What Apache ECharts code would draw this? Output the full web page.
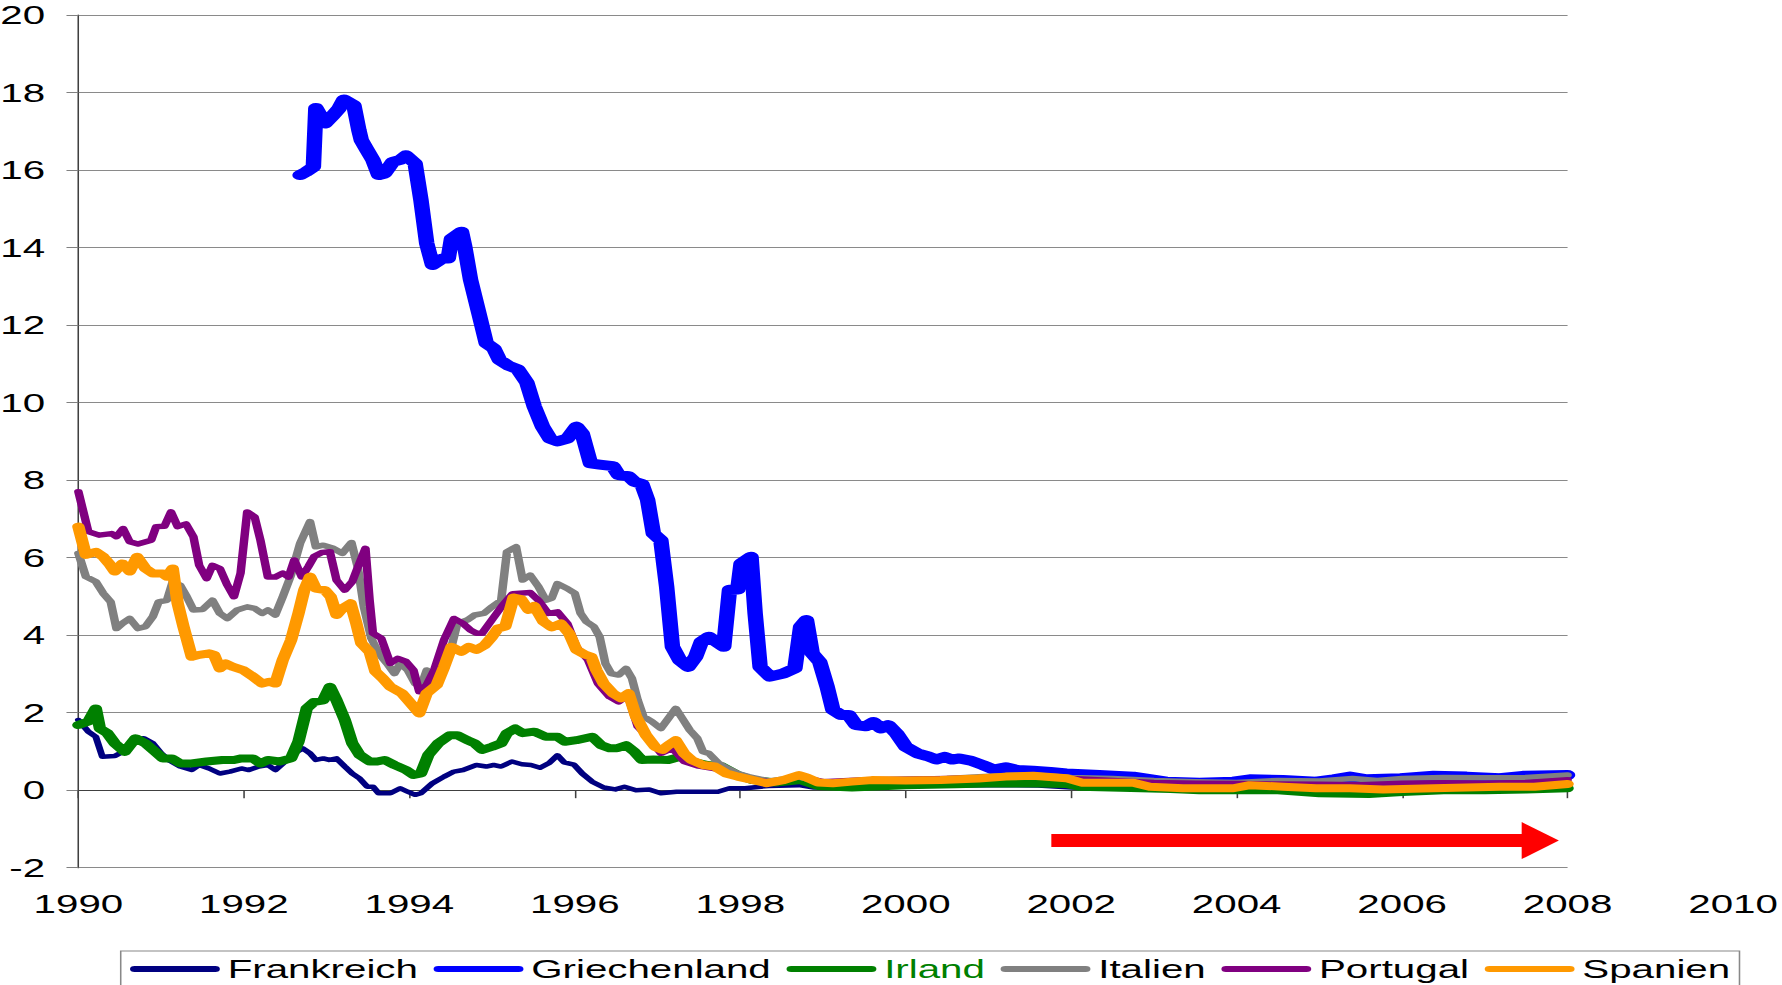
<!DOCTYPE html>
<html>
<head>
<meta charset="utf-8">
<script src="https://cdn.jsdelivr.net/npm/echarts/dist/echarts.min.js"></script>
<style>
	html, body { margin: 0; padding: 0; background: #fff; overflow: hidden; }
	/* the original picture is stretched sideways, so the chart is drawn narrow and widened */
	#chart { width: 1150px; height: 985px; transform: scaleX(1.5496); transform-origin: 0 0; }
</style>
</head>
<body>
<div id="chart"></div>
<script>
	const countries = ['Frankreich', 'Griechenland', 'Irland', 'Italien', 'Portugal', 'Spanien']
	const yearTicks = [1990, 1992, 1994, 1996, 1998, 2000, 2002, 2004, 2006, 2008, 2010]

	const frankreich = [[1990.0,1.81],[1990.12,1.51],[1990.21,1.38],[1990.29,0.86],[1990.44,0.88],[1990.58,1.04],[1990.67,1.29],[1990.79,1.34],[1990.9,1.21],[1991.0,0.95],[1991.09,0.78],[1991.23,0.61],[1991.37,0.52],[1991.46,0.65],[1991.58,0.56],[1991.71,0.43],[1991.83,0.48],[1991.97,0.56],[1992.06,0.52],[1992.18,0.61],[1992.29,0.65],[1992.38,0.52],[1992.5,0.74],[1992.61,0.95],[1992.71,1.08],[1992.8,0.95],[1992.87,0.78],[1992.96,0.82],[1993.03,0.78],[1993.12,0.82],[1993.22,0.61],[1993.31,0.43],[1993.4,0.3],[1993.49,0.09],[1993.56,0.09],[1993.63,-0.08],[1993.77,-0.08],[1993.89,0.05],[1993.98,-0.04],[1994.07,-0.12],[1994.14,-0.08],[1994.28,0.18],[1994.42,0.35],[1994.54,0.48],[1994.65,0.52],[1994.81,0.65],[1994.93,0.61],[1995.02,0.65],[1995.11,0.61],[1995.24,0.74],[1995.36,0.67],[1995.47,0.65],[1995.58,0.58],[1995.69,0.7],[1995.79,0.9],[1995.87,0.72],[1995.99,0.66],[1996.09,0.43],[1996.21,0.22],[1996.35,0.07],[1996.49,0.02],[1996.6,0.09],[1996.74,0.0],[1996.9,0.02],[1997.04,-0.08],[1997.23,-0.04],[1997.5,-0.04],[1997.73,-0.04],[1997.87,0.05],[1998.06,0.05],[1998.34,0.11],[1998.71,0.13],[1998.89,0.07],[1999.26,0.09],[1999.72,0.11],[2000.19,0.12],[2001.1,0.13],[2001.6,0.12],[2002.0,0.07],[2002.6,0.05],[2003.5,0.04],[2004.5,0.05],[2005.5,0.06],[2006.5,0.07],[2007.3,0.08],[2008.0,0.1]]

	const griechenland = [[1992.68,15.87],[1992.75,15.95],[1992.84,16.08],[1992.87,17.6],[1992.98,17.2],[1993.08,17.42],[1993.15,17.59],[1993.21,17.82],[1993.33,17.67],[1993.39,17.03],[1993.42,16.77],[1993.49,16.51],[1993.56,16.26],[1993.63,15.87],[1993.7,15.91],[1993.8,16.21],[1993.89,16.26],[1993.96,16.38],[1994.07,16.17],[1994.14,15.23],[1994.21,14.11],[1994.28,13.55],[1994.4,13.72],[1994.47,13.72],[1994.51,14.23],[1994.63,14.41],[1994.67,14.02],[1994.74,13.17],[1994.84,12.31],[1994.93,11.53],[1995.02,11.4],[1995.09,11.1],[1995.2,10.95],[1995.31,10.86],[1995.42,10.52],[1995.51,9.9],[1995.61,9.38],[1995.7,9.07],[1995.79,9.0],[1995.91,9.07],[1996.02,9.38],[1996.09,9.2],[1996.19,8.43],[1996.3,8.4],[1996.46,8.36],[1996.53,8.13],[1996.65,8.1],[1996.72,7.96],[1996.81,7.9],[1996.88,7.49],[1996.95,6.62],[1997.04,6.45],[1997.11,5.25],[1997.18,3.7],[1997.27,3.35],[1997.37,3.18],[1997.46,3.44],[1997.53,3.83],[1997.62,3.96],[1997.71,3.83],[1997.8,3.7],[1997.87,5.17],[1997.97,5.18],[1998.01,5.85],[1998.13,6.02],[1998.18,4.56],[1998.24,3.18],[1998.36,2.93],[1998.52,3.01],[1998.66,3.14],[1998.73,4.22],[1998.8,4.39],[1998.87,3.53],[1998.96,3.31],[1999.05,2.67],[1999.12,2.07],[1999.22,1.94],[1999.31,1.94],[1999.4,1.68],[1999.52,1.65],[1999.61,1.76],[1999.7,1.59],[1999.79,1.68],[1999.89,1.46],[2000.0,1.12],[2000.14,0.95],[2000.26,0.88],[2000.37,0.79],[2000.47,0.86],[2000.56,0.79],[2000.65,0.82],[2000.79,0.76],[2000.93,0.65],[2001.07,0.53],[2001.21,0.59],[2001.35,0.52],[2001.54,0.5],[2001.75,0.47],[2001.94,0.43],[2002.34,0.39],[2002.75,0.35],[2003.15,0.22],[2003.55,0.19],[2003.96,0.22],[2004.16,0.28],[2004.56,0.26],[2004.96,0.22],[2005.17,0.28],[2005.37,0.35],[2005.57,0.28],[2005.98,0.31],[2006.38,0.37],[2006.78,0.35],[2007.18,0.31],[2007.46,0.37],[2008.0,0.39]]

	const irland = [[1990.0,1.68],[1990.12,1.77],[1990.21,2.11],[1990.26,1.59],[1990.35,1.47],[1990.44,1.21],[1990.56,0.99],[1990.69,1.34],[1990.81,1.21],[1990.93,0.99],[1991.02,0.82],[1991.13,0.82],[1991.23,0.69],[1991.37,0.69],[1991.55,0.74],[1991.74,0.78],[1991.88,0.78],[1991.97,0.82],[1992.11,0.82],[1992.2,0.69],[1992.29,0.78],[1992.43,0.74],[1992.57,0.82],[1992.66,1.25],[1992.76,2.11],[1992.85,2.28],[1992.96,2.32],[1993.04,2.67],[1993.12,2.32],[1993.22,1.81],[1993.31,1.21],[1993.4,0.91],[1993.52,0.74],[1993.61,0.74],[1993.7,0.78],[1993.82,0.65],[1993.96,0.52],[1994.05,0.39],[1994.14,0.43],[1994.23,0.91],[1994.35,1.21],[1994.49,1.42],[1994.58,1.42],[1994.7,1.29],[1994.79,1.21],[1994.88,1.04],[1995.0,1.12],[1995.11,1.21],[1995.18,1.47],[1995.28,1.59],[1995.37,1.47],[1995.51,1.51],[1995.65,1.38],[1995.79,1.38],[1995.88,1.25],[1996.02,1.29],[1996.21,1.38],[1996.32,1.16],[1996.42,1.08],[1996.51,1.08],[1996.62,1.16],[1996.72,0.99],[1996.81,0.78],[1996.95,0.79],[1997.13,0.78],[1997.27,0.86],[1997.41,0.74],[1997.6,0.65],[1997.78,0.61],[1997.97,0.39],[1998.15,0.26],[1998.43,0.2],[1998.73,0.26],[1998.94,0.11],[1999.35,0.07],[2000.0,0.13],[2000.6,0.15],[2001.1,0.18],[2001.6,0.17],[2001.94,0.16],[2002.1,0.09],[2002.6,0.06],[2003.2,0.03],[2003.55,0.0],[2004.1,0.0],[2004.5,0.0],[2005.0,-0.08],[2005.6,-0.1],[2006.0,-0.05],[2006.5,0.0],[2007.0,0.0],[2007.5,0.02],[2008.0,0.05]]

	const italien = [[1990.0,6.11],[1990.09,5.51],[1990.21,5.38],[1990.3,5.08],[1990.39,4.86],[1990.46,4.17],[1990.53,4.3],[1990.62,4.43],[1990.72,4.17],[1990.81,4.22],[1990.9,4.48],[1990.97,4.86],[1991.07,4.9],[1991.14,5.38],[1991.23,5.29],[1991.3,5.03],[1991.39,4.65],[1991.5,4.66],[1991.62,4.9],[1991.71,4.56],[1991.8,4.43],[1991.92,4.65],[1992.04,4.73],[1992.13,4.69],[1992.22,4.56],[1992.29,4.65],[1992.38,4.52],[1992.47,4.99],[1992.57,5.55],[1992.68,6.37],[1992.8,6.93],[1992.87,6.28],[1992.96,6.32],[1993.08,6.24],[1993.19,6.11],[1993.3,6.39],[1993.38,5.72],[1993.45,4.73],[1993.54,3.92],[1993.63,3.53],[1993.73,3.27],[1993.82,3.01],[1993.89,3.27],[1993.98,3.1],[1994.07,2.75],[1994.14,2.67],[1994.21,3.1],[1994.28,2.75],[1994.37,3.01],[1994.49,3.53],[1994.58,4.3],[1994.7,4.39],[1994.79,4.52],[1994.9,4.56],[1995.0,4.73],[1995.11,4.9],[1995.18,6.15],[1995.29,6.28],[1995.37,5.42],[1995.46,5.55],[1995.56,5.25],[1995.65,4.9],[1995.72,4.95],[1995.79,5.33],[1995.91,5.2],[1996.0,5.08],[1996.07,4.56],[1996.14,4.35],[1996.23,4.22],[1996.3,3.96],[1996.37,3.27],[1996.44,3.01],[1996.53,2.97],[1996.62,3.14],[1996.69,2.89],[1996.76,2.33],[1996.83,1.9],[1996.93,1.77],[1997.04,1.59],[1997.13,1.85],[1997.22,2.11],[1997.3,1.85],[1997.39,1.55],[1997.48,1.34],[1997.55,0.99],[1997.62,0.95],[1997.74,0.69],[1997.85,0.56],[1997.97,0.43],[1998.1,0.35],[1998.35,0.24],[1998.7,0.34],[1999.0,0.2],[1999.5,0.25],[2000.0,0.28],[2000.5,0.3],[2001.0,0.36],[2001.5,0.4],[2002.0,0.33],[2002.5,0.3],[2003.0,0.25],[2003.5,0.22],[2004.0,0.2],[2004.5,0.25],[2005.0,0.24],[2005.4,0.3],[2005.7,0.25],[2006.0,0.3],[2006.5,0.33],[2007.0,0.32],[2007.5,0.33],[2008.0,0.39]]

	const portugal = [[1990.0,7.7],[1990.12,6.67],[1990.25,6.58],[1990.4,6.62],[1990.46,6.54],[1990.54,6.75],[1990.62,6.41],[1990.72,6.35],[1990.88,6.45],[1990.94,6.8],[1991.04,6.81],[1991.12,7.18],[1991.2,6.8],[1991.3,6.87],[1991.39,6.54],[1991.46,5.8],[1991.55,5.46],[1991.62,5.8],[1991.71,5.72],[1991.8,5.29],[1991.88,4.99],[1991.96,5.6],[1992.04,7.18],[1992.13,7.05],[1992.2,6.45],[1992.29,5.5],[1992.38,5.5],[1992.47,5.6],[1992.54,5.5],[1992.61,5.94],[1992.7,5.5],[1992.78,5.77],[1992.85,6.03],[1992.94,6.13],[1993.04,6.15],[1993.12,5.42],[1993.22,5.16],[1993.31,5.38],[1993.38,5.77],[1993.47,6.24],[1993.52,4.9],[1993.56,4.05],[1993.66,3.92],[1993.77,3.27],[1993.86,3.4],[1993.96,3.32],[1994.05,3.1],[1994.12,2.54],[1994.21,2.72],[1994.3,3.1],[1994.42,3.88],[1994.54,4.43],[1994.65,4.3],[1994.74,4.13],[1994.81,4.05],[1994.88,4.05],[1995.0,4.4],[1995.12,4.75],[1995.25,5.07],[1995.46,5.1],[1995.56,4.9],[1995.68,4.56],[1995.79,4.6],[1995.91,4.3],[1996.02,3.7],[1996.16,3.36],[1996.28,2.75],[1996.42,2.41],[1996.53,2.28],[1996.64,2.45],[1996.76,1.64],[1996.88,1.38],[1997.04,0.95],[1997.18,1.08],[1997.32,0.74],[1997.5,0.62],[1997.7,0.55],[1997.9,0.4],[1998.2,0.25],[1998.45,0.2],[1998.7,0.36],[1999.0,0.22],[1999.5,0.27],[2000.0,0.28],[2000.5,0.3],[2001.0,0.33],[2001.5,0.36],[2002.0,0.3],[2002.5,0.25],[2003.0,0.2],[2003.5,0.18],[2004.0,0.17],[2004.5,0.16],[2005.0,0.15],[2005.5,0.14],[2006.0,0.18],[2006.5,0.19],[2007.0,0.18],[2007.5,0.2],[2008.0,0.27]]

	const spanien = [[1990.0,6.8],[1990.09,6.07],[1990.21,6.15],[1990.3,6.02],[1990.37,5.85],[1990.44,5.64],[1990.53,5.85],[1990.62,5.64],[1990.71,6.02],[1990.81,5.72],[1990.9,5.59],[1991.02,5.59],[1991.07,5.51],[1991.14,5.72],[1991.2,4.82],[1991.27,4.22],[1991.37,3.44],[1991.46,3.49],[1991.58,3.53],[1991.64,3.49],[1991.71,3.14],[1991.78,3.27],[1991.87,3.18],[1991.99,3.1],[1992.11,2.93],[1992.22,2.75],[1992.31,2.8],[1992.38,2.75],[1992.47,3.36],[1992.57,3.87],[1992.66,4.56],[1992.73,5.16],[1992.8,5.51],[1992.87,5.2],[1992.98,5.16],[1993.05,4.99],[1993.12,4.52],[1993.19,4.69],[1993.29,4.82],[1993.36,4.3],[1993.42,3.79],[1993.52,3.57],[1993.59,3.06],[1993.68,2.88],[1993.77,2.67],[1993.91,2.5],[1994.0,2.28],[1994.12,1.98],[1994.21,2.5],[1994.33,2.71],[1994.42,3.18],[1994.51,3.7],[1994.63,3.57],[1994.72,3.7],[1994.81,3.62],[1994.91,3.74],[1995.0,3.96],[1995.07,4.17],[1995.16,4.22],[1995.26,4.97],[1995.35,4.93],[1995.44,4.65],[1995.51,4.75],[1995.62,4.35],[1995.72,4.2],[1995.83,4.3],[1995.93,4.05],[1996.02,3.62],[1996.12,3.5],[1996.2,3.44],[1996.26,3.1],[1996.35,2.75],[1996.46,2.5],[1996.56,2.37],[1996.65,2.5],[1996.74,1.9],[1996.86,1.42],[1996.97,1.12],[1997.06,1.04],[1997.13,1.16],[1997.22,1.29],[1997.32,0.95],[1997.41,0.78],[1997.55,0.65],[1997.69,0.61],[1997.83,0.43],[1997.97,0.35],[1998.15,0.26],[1998.32,0.18],[1998.52,0.26],[1998.71,0.39],[1998.8,0.33],[1998.94,0.2],[1999.12,0.18],[1999.35,0.22],[1999.59,0.26],[2000.0,0.25],[2000.42,0.26],[2000.88,0.3],[2001.21,0.35],[2001.54,0.37],[2001.94,0.31],[2002.14,0.19],[2002.34,0.19],[2002.75,0.19],[2002.95,0.09],[2003.35,0.05],[2003.96,0.05],[2004.16,0.13],[2004.56,0.09],[2004.96,0.05],[2005.37,0.05],[2005.77,0.02],[2006.38,0.05],[2007.18,0.09],[2007.6,0.09],[2008.0,0.16]]

	// red arrow under the lines (start, end in data units)
	const arrowFrom = [2001.76, -1.3]
	const arrowTo = [2007.67, -1.3]

	const seriesData = [frankreich, griechenland, irland, italien, portugal, spanien]
	const colors = ['#000080', '#0000ff', '#008000', '#808080', '#800080', '#ff9900']
	const widths = [4.5, 10, 8, 5.5, 5.5, 8]

	const font = "'Liberation Sans', Arial, sans-serif"
	const chart = echarts.init(document.getElementById('chart'), null, { renderer: 'svg' })

	const series = countries.map(function (name, i) {
		return {
			name: name,
			type: 'line',
			xAxisIndex: 0,
			yAxisIndex: 0,
			data: seriesData[i],
			color: colors[i],
			symbol: 'none',
			lineStyle: { width: widths[i], color: colors[i], cap: 'round', join: 'round' },
			emphasis: { disabled: true }
		}
	})
	series[5].markLine = {
		silent: true,
		animation: false,
		symbol: ['none', 'triangle'],
		symbolSize: [37, 24],
		label: { show: false },
		lineStyle: { color: '#ff0000', width: 13, type: 'solid' },
		data: [[{ coord: arrowFrom }, { coord: arrowTo }]]
	}

	chart.setOption({
		animation: false,
		textStyle: { fontFamily: font },
		grid: [
			{ left: 50.6, right: 138.4, top: 15, bottom: 117.3, outerBoundsMode: 'none' },
			// wider grid only for the year labels (they run on to 2010)
			{ left: 50.6, right: 31.6, top: 15, bottom: 117.3, outerBoundsMode: 'none' }
		],
		legend: {
			left: 77.9,
			top: 951,
			padding: [5, 6, 10, 6],
			itemGap: 10.1,
			itemWidth: 58,
			itemHeight: 7,
			icon: 'path://M3,0L55,0A3,3,0,0,1,55,6L3,6A3,3,0,0,1,3,0Z',
			borderColor: '#888',
			borderWidth: 1,
			selectedMode: false,
			textStyle: { fontSize: 26, color: '#000', fontFamily: font },
			data: countries.map(function (c) {
				return c === 'Irland' ? { name: c, textStyle: { color: '#008000' } } : { name: c }
			})
		},
		xAxis: [{
			type: 'value',
			gridIndex: 0,
			min: yearTicks[0],
			max: 2008,
			interval: 2,
			axisLine: { show: true, onZero: true, lineStyle: { color: '#404040', width: 1 } },
			axisTick: { show: true, length: 8, lineStyle: { color: '#404040' } },
			axisLabel: { show: false },
			splitLine: { show: false }
		}, {
			type: 'value',
			gridIndex: 1,
			min: yearTicks[0],
			max: yearTicks[yearTicks.length - 1],
			interval: 2,
			axisLine: { show: false, onZero: false },
			axisTick: { show: false },
			splitLine: { show: false },
			axisLabel: {
				show: true,
				margin: 23,
				fontSize: 26,
				color: '#000',
				fontFamily: font,
				showMinLabel: true,
				showMaxLabel: true,
				formatter: function (v) { return String(v) }
			}
		}],
		yAxis: [{
			type: 'value',
			gridIndex: 0,
			min: -2,
			max: 20,
			interval: 2,
			axisLine: { show: true, lineStyle: { color: '#404040', width: 1 } },
			axisTick: { show: true, length: 7.7, lineStyle: { color: '#808080' } },
			axisLabel: { margin: 21.5, fontSize: 26, color: '#000', fontFamily: font },
			splitLine: { show: true, lineStyle: { color: '#8a8a8a', width: 1 } }
		}, {
			type: 'value',
			gridIndex: 1,
			min: -2,
			max: 20,
			show: false
		}],
		series: series
	})
</script>
</body>
</html>
